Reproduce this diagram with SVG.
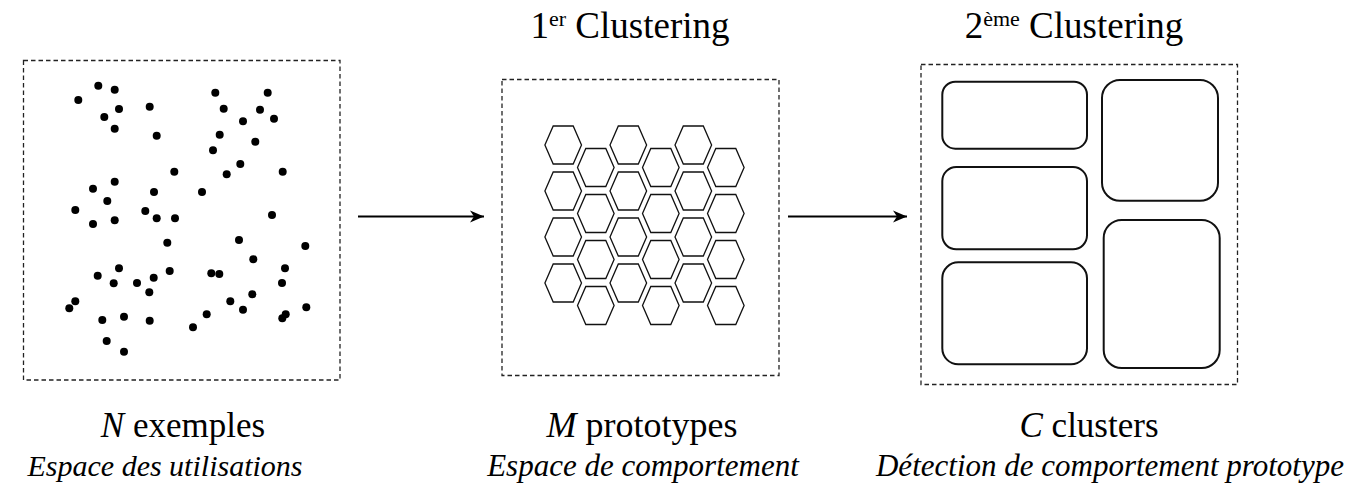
<svg xmlns="http://www.w3.org/2000/svg" width="1357" height="491" viewBox="0 0 1357 491">
<style>
.frame{fill:none;stroke:#222;stroke-width:1.3;stroke-dasharray:4.5,3}
.dot{fill:#000}
.hex{fill:none;stroke:#111;stroke-width:1.3}
.cl{fill:none;stroke:#111;stroke-width:2}
.conn{stroke:#000;stroke-width:1.8;fill:none}
.t{font-family:"Liberation Serif","Times New Roman",serif;fill:#000}
.it{font-style:italic}
</style>
<defs>
<polygon id="hx" points="-18.3,0 -10,-19 10,-19 18.3,0 10,19 -10,19"/>
<marker id="ah" markerWidth="16" markerHeight="14" refX="14" refY="7" orient="auto" markerUnits="userSpaceOnUse">
<path d="M0,1 L14,7 L0,13 L4,7 z" fill="#000"/>
</marker>
</defs>
<rect width="1357" height="491" fill="#fff"/>

<g id="panel-exemples">
<rect class="frame" x="23.5" y="60.5" width="316.5" height="319.5"/>
<g class="dot">
<circle cx="78.3" cy="100" r="4"/><circle cx="98.3" cy="85.7" r="4"/><circle cx="114.7" cy="89.7" r="4"/>
<circle cx="119" cy="109" r="4"/><circle cx="104.3" cy="117" r="4"/><circle cx="114.7" cy="128.7" r="4"/>
<circle cx="149.7" cy="106.7" r="4"/><circle cx="156.7" cy="135.7" r="4"/><circle cx="215.3" cy="92.7" r="4"/>
<circle cx="267.7" cy="92.7" r="4"/><circle cx="223.7" cy="108.7" r="4"/><circle cx="260" cy="109.7" r="4"/>
<circle cx="274" cy="118.7" r="4"/><circle cx="243" cy="121.3" r="4"/><circle cx="219.7" cy="134.7" r="4"/>
<circle cx="255.3" cy="141.7" r="4"/><circle cx="213" cy="150.3" r="4"/><circle cx="240.3" cy="164" r="4"/>
<circle cx="226.7" cy="174.3" r="4"/><circle cx="282.7" cy="171.7" r="4"/><circle cx="174.3" cy="171.7" r="4"/>
<circle cx="114.7" cy="181.7" r="4"/><circle cx="93" cy="188.7" r="4"/><circle cx="154" cy="192" r="4"/>
<circle cx="202" cy="192" r="4"/><circle cx="107.3" cy="201" r="4"/><circle cx="75.3" cy="210" r="4"/>
<circle cx="145.3" cy="211" r="4"/><circle cx="156.7" cy="218.3" r="4"/><circle cx="175" cy="218.3" r="4"/>
<circle cx="93" cy="224" r="4"/><circle cx="114.7" cy="220.3" r="4"/><circle cx="272" cy="215" r="4"/>
<circle cx="167.3" cy="242.7" r="4"/><circle cx="239" cy="240" r="4"/><circle cx="305.3" cy="246" r="4"/>
<circle cx="253.3" cy="259.3" r="4"/><circle cx="285" cy="268.3" r="4"/><circle cx="282" cy="283" r="4"/>
<circle cx="97.7" cy="275.7" r="4"/><circle cx="119" cy="268.3" r="4"/><circle cx="113.7" cy="283.3" r="4"/>
<circle cx="137" cy="283" r="4"/><circle cx="153.7" cy="277.7" r="4"/><circle cx="169.7" cy="271" r="4"/>
<circle cx="149.3" cy="292.3" r="4"/><circle cx="211.3" cy="273.3" r="4"/><circle cx="219.3" cy="274" r="4"/>
<circle cx="252.3" cy="294.3" r="4"/><circle cx="230.3" cy="301.3" r="4"/><circle cx="243" cy="309.7" r="4"/>
<circle cx="206.7" cy="314.3" r="4"/><circle cx="193" cy="327.3" r="4"/><circle cx="75.3" cy="301.3" r="4"/>
<circle cx="69.3" cy="308.3" r="4"/><circle cx="102.3" cy="320" r="4"/><circle cx="124" cy="316.7" r="4"/>
<circle cx="149.7" cy="320.7" r="4"/><circle cx="106.7" cy="341" r="4"/><circle cx="124" cy="351.7" r="4"/>
<circle cx="306.3" cy="307.3" r="4"/><circle cx="285.7" cy="314.3" r="4"/><circle cx="282.3" cy="318.3" r="4"/>
</g>
</g>

<g id="panel-prototypes">
<rect class="frame" x="502" y="79.5" width="277" height="296"/>
<g class="hex">
<use href="#hx" x="563.2" y="145"/><use href="#hx" x="563.2" y="191"/><use href="#hx" x="563.2" y="237"/><use href="#hx" x="563.2" y="283"/>
<use href="#hx" x="595.8" y="167.5"/><use href="#hx" x="595.8" y="213.5"/><use href="#hx" x="595.8" y="259.5"/><use href="#hx" x="595.8" y="305.5"/>
<use href="#hx" x="628.3" y="145"/><use href="#hx" x="628.3" y="191"/><use href="#hx" x="628.3" y="237"/><use href="#hx" x="628.3" y="283"/>
<use href="#hx" x="660.8" y="167.5"/><use href="#hx" x="660.8" y="213.5"/><use href="#hx" x="660.8" y="259.5"/><use href="#hx" x="660.8" y="305.5"/>
<use href="#hx" x="693.3" y="145"/><use href="#hx" x="693.3" y="191"/><use href="#hx" x="693.3" y="237"/><use href="#hx" x="693.3" y="283"/>
<use href="#hx" x="725.8" y="167.5"/><use href="#hx" x="725.8" y="213.5"/><use href="#hx" x="725.8" y="259.5"/><use href="#hx" x="725.8" y="305.5"/>
</g>
</g>

<g id="panel-clusters">
<rect class="frame" x="921" y="64.5" width="316.5" height="320"/>
<rect class="cl" x="942.3" y="81.7" width="144.7" height="67" rx="13"/>
<rect class="cl" x="942.3" y="167" width="144.7" height="82.3" rx="14"/>
<rect class="cl" x="942.3" y="262.3" width="144.7" height="102" rx="16"/>
<rect class="cl" x="1102" y="80" width="116" height="120.7" rx="18"/>
<rect class="cl" x="1103.7" y="220" width="116" height="148" rx="18"/>
</g>

<g id="connectors">
<line class="conn" x1="358" y1="216.5" x2="484" y2="216.5" marker-end="url(#ah)"/>
<line class="conn" x1="788" y1="216.5" x2="907" y2="216.5" marker-end="url(#ah)"/>
</g>

<g id="labels">
<text class="t" x="630" y="38" font-size="37" text-anchor="middle">1<tspan font-size="22" dy="-12">er</tspan><tspan dy="12"> Clustering</tspan></text>
<text class="t" x="1074" y="38" font-size="37" text-anchor="middle">2<tspan font-size="22" dy="-12">ème</tspan><tspan dy="12"> Clustering</tspan></text>
<text class="t" x="183" y="437" font-size="35" text-anchor="middle"><tspan class="it">N</tspan> exemples</text>
<text class="t" x="642" y="437" font-size="36" text-anchor="middle"><tspan class="it">M</tspan> prototypes</text>
<text class="t" x="1089" y="437" font-size="35" text-anchor="middle"><tspan class="it">C</tspan> clusters</text>
<text class="t it" x="165" y="476" font-size="30" text-anchor="middle">Espace des utilisations</text>
<text class="t it" x="643" y="476" font-size="31" text-anchor="middle">Espace de comportement</text>
<text class="t it" x="1110" y="476" font-size="31" text-anchor="middle">Détection de comportement prototype</text>
</g>
</svg>
